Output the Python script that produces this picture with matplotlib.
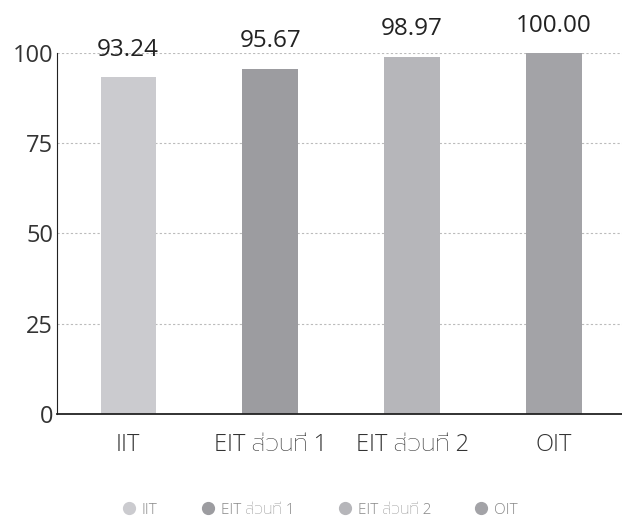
import matplotlib
matplotlib.use('Agg')
from matplotlib import pyplot as plt
from matplotlib.lines import Line2D

plt.rcParams['font.family'] = ['Open Sans', 'Prompt', 'Noto Sans Thai', 'DejaVu Sans']

categories = ['IIT', 'EIT ส่วนที่ 1', 'EIT ส่วนที่ 2', 'OIT']
values = [93.24, 95.67, 98.97, 100.00]
value_labels = ['93.24', '95.67', '98.97', '100.00']
yticks = [0, 25, 50, 75, 100]
colors = ['#cbcbcf', '#9c9ca0', '#b6b6ba', '#a3a3a7']

fig = plt.figure(figsize=(6.22, 5.2), dpi=100)
ax = fig.add_axes([0.092, 0.204, 0.913, 0.694])

x = range(len(categories))
ax.bar(x, values, width=0.39, color=colors, zorder=2)
for i, v in enumerate(values):
    ax.annotate(value_labels[i], (i, v), xytext=(0, 11), textcoords='offset points',
                ha='center', va='bottom', fontsize=17.5, color='#222222',
                annotation_clip=False)

ax.set_xlim(-0.5, len(categories) - 0.5)
ax.set_ylim(0, 100)
ax.set_yticks(yticks)
ax.set_xticks(list(x))
ax.set_xticklabels(categories, fontweight='light')
ax.tick_params(axis='both', length=0, labelsize=17, labelcolor='#333333')
ax.tick_params(axis='y', pad=3)
ax.tick_params(axis='x', pad=14)
ax.grid(axis='y', color='#bbbbbb', linestyle=(0, (2, 2)), linewidth=0.8, zorder=0)
for side in ['top', 'right']:
    ax.spines[side].set_visible(False)
ax.spines['left'].set_color('#222222')
ax.spines['bottom'].set_color('#222222')
ax.spines['bottom'].set_linewidth(1.3)

handles = [Line2D([], [], marker='o', linestyle='none', markersize=8.5,
                  markerfacecolor=c, markeredgecolor=c) for c in colors]
fig.legend(handles, categories, loc='lower center', bbox_to_anchor=(0.515, -0.022),
           ncol=4, frameon=False, labelcolor='#888888',
           handlelength=0.8, handletextpad=0.45, columnspacing=2.9,
           prop={'weight': 'light', 'size': 11})

fig.savefig('out.png')
